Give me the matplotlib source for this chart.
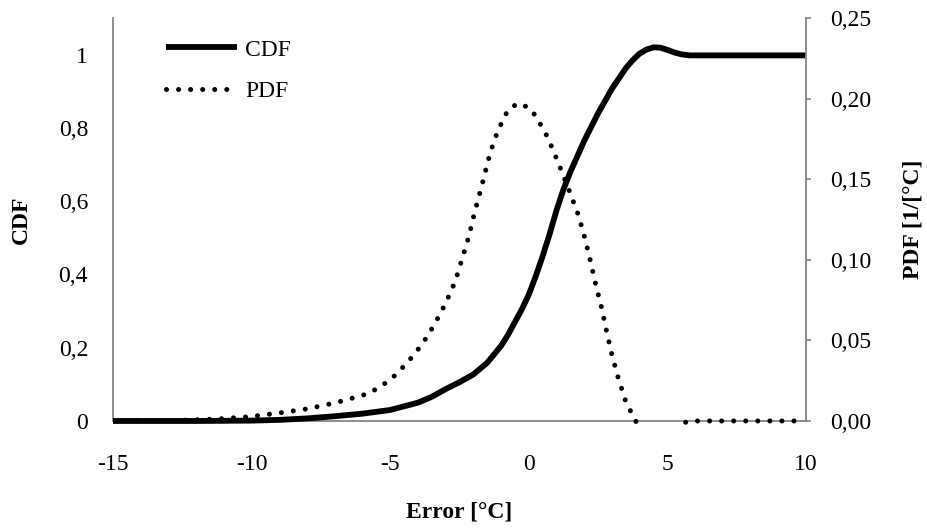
"""CDF and PDF of the forecast error, two y axes."""

import matplotlib
matplotlib.use("Agg")
import matplotlib.pyplot as plt
from matplotlib.patches import Rectangle

plt.rcParams["font.family"] = ["Liberation Serif", "DejaVu Serif"]

# error [°C] and cumulative distribution
cdf_x = [-15, -12, -10, -9, -8, -7, -6, -5, -4.5, -4, -3.5, -3, -2.5, -2,
         -1.5, -1, -0.75, -0.5, -0.25, 0, 0.25, 0.5, 0.75, 1, 1.25, 1.5, 2,
         2.5, 3, 3.5, 3.75, 4, 4.25, 4.5, 4.75, 5, 5.25, 5.5, 5.8, 7, 8, 9, 10]
cdf_y = [0, 0, 0.001, 0.003, 0.007, 0.013, 0.02, 0.03, 0.04, 0.05, 0.066,
         0.087, 0.106, 0.127, 0.159, 0.205, 0.235, 0.27, 0.305, 0.345, 0.395,
         0.45, 0.51, 0.575, 0.632, 0.68, 0.765, 0.84, 0.907, 0.963, 0.985,
         1.003, 1.014, 1.02, 1.019, 1.013, 1.006, 1.001, 0.998, 0.998, 0.998,
         0.998, 0.998]

# error [°C] and probability density [1/°C]
pdf_x = [-15, -14, -13, -12, -11, -10, -9, -8, -7, -6.5, -5.75, -5, -4.4,
         -3.85, -3.4, -3, -2.65, -2.4, -2.15, -1.95, -1.72, -1.4, -1.12, -0.75,
         -0.4, 0, 0.26, 0.68, 1.02, 1.49, 1.79, 2.03, 2.23, 2.42, 2.63, 2.81,
         3.0, 3.23, 3.5, 3.85, 4.25, 4.75, 5.25, 5.6, 5.85, 7, 8, 9, 10]
pdf_y = [0, 0, 0.0003, 0.0007, 0.0015, 0.0028, 0.005, 0.0075, 0.0112, 0.0135,
         0.0172, 0.0254, 0.0358, 0.0475, 0.06, 0.073, 0.0868, 0.1009, 0.1153,
         0.1298, 0.1443, 0.166, 0.18, 0.193, 0.197, 0.1945, 0.189, 0.176,
         0.162, 0.1415, 0.1277, 0.113, 0.0988, 0.0843, 0.0699, 0.0554, 0.0409,
         0.0265, 0.012, 0.0, -0.008, -0.01, -0.006, -0.001, 0, 0, 0, 0, 0]

x_ticks = [-15, -10, -5, 0, 5, 10]
cdf_ticks = [0, 0.2, 0.4, 0.6, 0.8, 1.0]
cdf_labels = ["0", "0,2", "0,4", "0,6", "0,8", "1"]
pdf_ticks = [0, 0.05, 0.10, 0.15, 0.20, 0.25]
pdf_labels = ["0,00", "0,05", "0,10", "0,15", "0,20", "0,25"]

FS = 17
GREY = "#868686"

fig = plt.figure(figsize=(9.28, 5.30), dpi=100)
ax = fig.add_axes([0.1218, 0.2057, 0.7467, 0.7603])
ax2 = ax.twinx()

(l_cdf,) = ax.plot(cdf_x, cdf_y, color="black", lw=4.2, solid_capstyle="butt",
                   solid_joinstyle="round", label="CDF", zorder=3)
l_cdf.set_clip_on(False)

(l_pdf,) = ax2.plot(pdf_x, pdf_y, color="black", lw=3.6,
                    linestyle=(0, (0.01, 2.4)), dash_capstyle="round",
                    label="PDF")
# keep the dots lying on zero whole, but hide the negative tail
clip = Rectangle((0, -0.01), 1, 1.05, transform=ax2.transAxes)
l_pdf.set_clip_path(clip)

ax.set_xlim(-15, 10)
ax.set_ylim(0, 1.1)
ax2.set_ylim(0, 0.25)

ax.set_xticks(x_ticks)
ax.set_xticklabels([str(t) for t in x_ticks])
ax.set_yticks(cdf_ticks)
ax.set_yticklabels(cdf_labels)
ax2.set_yticks(pdf_ticks)
ax2.set_yticklabels(pdf_labels)

ax.tick_params(axis="x", length=0, pad=24, labelsize=FS)
ax.tick_params(axis="y", length=0, pad=18, labelsize=FS)
ax2.tick_params(axis="y", length=3.6, width=1.2, color=GREY, pad=13.5,
                labelsize=FS)

for a in (ax, ax2):
    a.spines["top"].set_visible(False)
    for s in ("left", "bottom", "right"):
        a.spines[s].set_color(GREY)
        a.spines[s].set_linewidth(1.3)
ax.spines["right"].set_visible(False)
ax2.spines["left"].set_visible(False)
ax2.spines["bottom"].set_visible(False)

ax.set_xlabel("Error [°C]", fontsize=FS, fontweight="bold", labelpad=19)
ax.set_ylabel("CDF", fontsize=FS, fontweight="bold", labelpad=19)
ax2.set_ylabel("PDF [1/[°C]", fontsize=FS, fontweight="bold", labelpad=23)

ax.legend([l_cdf, l_pdf], ["CDF", "PDF"], loc="upper left",
          bbox_to_anchor=(0.0765, 0.948), frameon=False, fontsize=FS,
          handlelength=3.0, handletextpad=0.34, labelspacing=0.85,
          borderpad=0, borderaxespad=0)

fig.savefig("out.png", dpi=100)
